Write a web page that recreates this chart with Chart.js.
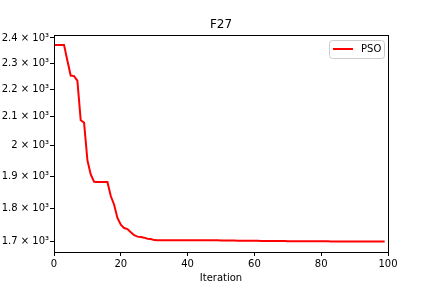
<!DOCTYPE html>
<html>
<head>
<meta charset="utf-8">
<script src="https://cdn.jsdelivr.net/npm/chart.js@4/dist/chart.umd.min.js"></script>
<style>
html,body{margin:0;padding:0;background:#fff;}
#wrap{width:432px;height:288px;}
</style>
</head>
<body>
<div id="wrap"><canvas id="c" width="432" height="288"></canvas></div>
<script>
const title = "F27";
const seriesName = "PSO";
const iterations = Array.from({length: 100}, (_, i) => i);
const psoValues = [
  2372, 2372, 2372, 2372, 2310, 2252, 2250, 2233, 2088, 2080,
  1952, 1905, 1882, 1881, 1881, 1881, 1881, 1837, 1810, 1770,
  1750, 1740, 1737, 1728, 1719, 1715, 1714, 1712, 1709, 1708,
  1705, 1704.6, 1704.6, 1704.6, 1704.6, 1704.6, 1704.6, 1704.6, 1704.6, 1704.6,
  1704.6, 1704.6, 1704.6, 1704.6, 1704.6, 1704.6, 1704.6, 1704.6, 1704.6, 1704.5,
  1703.8, 1703.8, 1703.7, 1703.6, 1703.5, 1703.4, 1703.3, 1703.2, 1703.1, 1703.0,
  1702.9, 1702.8, 1702.7, 1702.6, 1702.6, 1702.5, 1702.5, 1702.4, 1702.4, 1702.3,
  1702.0, 1701.9, 1701.8, 1701.8, 1701.7, 1701.7, 1701.6, 1701.6, 1701.5, 1701.5,
  1701.4, 1701.4, 1701.4, 1701.3, 1701.3, 1701.3, 1701.2, 1701.2, 1701.2, 1701.1,
  1701.1, 1701.1, 1701.0, 1701.0, 1701.0, 1701.0, 1700.9, 1700.9, 1700.9, 1700.9
];
const yTicks = [1700, 1800, 1900, 2000, 2100, 2200, 2300, 2400];
const yTickLabels = ["1.7 × 10³", "1.8 × 10³", "1.9 × 10³", "2 × 10³", "2.1 × 10³", "2.2 × 10³", "2.3 × 10³", "2.4 × 10³"];
const xTicks = [0, 20, 40, 60, 80, 100];

const FONT = "DejaVu Sans";

const framePlugin = {
  id: 'frame',
  afterDraw(chart) {
    const {ctx, chartArea: a} = chart;
    ctx.save();
    ctx.strokeStyle = '#000';
    ctx.lineWidth = 1;
    ctx.strokeRect(Math.round(a.left) + 0.5, Math.round(a.top) + 0.5, Math.round(a.right - a.left), Math.round(a.bottom - a.top));

    // title centered over plot area
    ctx.fillStyle = '#000';
    ctx.font = '12px "' + FONT + '"';
    ctx.textAlign = 'center';
    ctx.textBaseline = 'middle';
    ctx.fillText(title, (a.left + a.right) / 2, a.top - 10);

    // legend in upper right
    const ds = chart.data.datasets[0];
    const bw = 55, bh = 18;
    const bx = Math.round(a.right) - 4 - bw, by = Math.round(a.top) + 5;
    const r = 3;
    ctx.beginPath();
    ctx.moveTo(bx + r + 0.5, by + 0.5);
    ctx.arcTo(bx + bw + 0.5, by + 0.5, bx + bw + 0.5, by + bh + 0.5, r);
    ctx.arcTo(bx + bw + 0.5, by + bh + 0.5, bx + 0.5, by + bh + 0.5, r);
    ctx.arcTo(bx + 0.5, by + bh + 0.5, bx + 0.5, by + 0.5, r);
    ctx.arcTo(bx + 0.5, by + 0.5, bx + bw + 0.5, by + 0.5, r);
    ctx.closePath();
    ctx.fillStyle = 'rgba(255,255,255,0.8)';
    ctx.fill();
    ctx.strokeStyle = '#cccccc';
    ctx.stroke();
    ctx.strokeStyle = ds.borderColor;
    ctx.lineWidth = 2;
    ctx.beginPath();
    ctx.moveTo(bx + 4, by + 9);
    ctx.lineTo(bx + 24, by + 9);
    ctx.stroke();
    ctx.fillStyle = '#000';
    ctx.font = '10px "' + FONT + '"';
    ctx.textAlign = 'left';
    ctx.textBaseline = 'middle';
    ctx.fillText(ds.label, bx + 32, by + 9.5);
    ctx.restore();
  }
};

new Chart(document.getElementById('c'), {
  type: 'line',
  data: {
    datasets: [{
      label: seriesName,
      data: iterations.map((x, i) => ({x: x, y: psoValues[i]})),
      borderColor: '#ff0000',
      backgroundColor: '#ff0000',
      borderWidth: 2,
      pointRadius: 0,
      tension: 0,
      fill: false
    }]
  },
  options: {
    responsive: false,
    animation: false,
    devicePixelRatio: 1,
    layout: {padding: {left: 0, right: 44, top: 35, bottom: 0}},
    plugins: {
      title: {display: false},
      legend: {display: false},
      tooltip: {enabled: false}
    },
    scales: {
      x: {
        type: 'linear',
        min: 0,
        max: 100,
        afterFit(s) { s.height = 36; },
        afterBuildTicks(s) { s.ticks = xTicks.map(v => ({value: v})); },
        grid: {display: true, drawOnChartArea: false, drawTicks: true, tickLength: 4, color: '#000'},
        border: {display: true, color: '#000'},
        ticks: {color: '#000', font: {family: FONT, size: 10}, padding: 2, maxRotation: 0},
        title: {display: true, text: 'Iteration', color: '#000', font: {family: FONT, size: 10}, padding: {top: 1, bottom: 4}}
      },
      y: {
        type: 'logarithmic',
        min: 1671,
        max: 2412,
        afterFit(s) { s.width = 54; },
        afterBuildTicks(s) { s.ticks = yTicks.map(v => ({value: v})); },
        grid: {display: true, drawOnChartArea: false, drawTicks: true, tickLength: 4, color: '#000'},
        border: {display: true, color: '#000'},
        ticks: {
          color: '#000',
          font: {family: FONT, size: 10},
          padding: 1,
          callback: (v) => { const k = yTicks.indexOf(v); return k >= 0 ? yTickLabels[k] : ''; }
        }
      }
    }
  },
  plugins: [framePlugin]
});
</script>
</body>
</html>
